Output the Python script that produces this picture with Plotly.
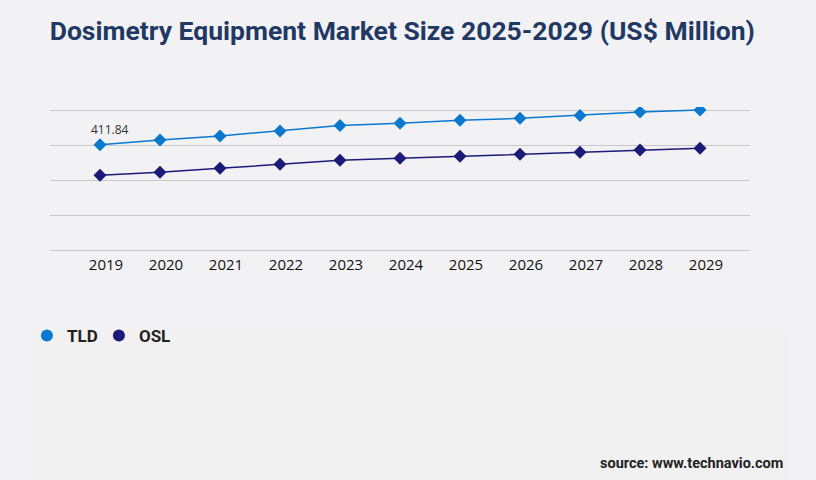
import plotly.graph_objects as go

years = ["2019", "2020", "2021", "2022", "2023", "2024", "2025", "2026", "2027", "2028", "2029"]
tld = [411.84, 430.6, 446.2, 465.8, 488.0, 496.0, 507.7, 515.5, 527.2, 540.1, 548.0]
osl = [292.4, 304.1, 319.8, 335.4, 351.1, 358.9, 366.7, 374.6, 382.4, 391.4, 398.1]

series = [("TLD", tld, "#0a78cf"), ("OSL", osl, "#1b1a78")]

fig = go.Figure()

for name, vals, col in series:
    fig.add_trace(go.Scatter(
        x=years, y=vals, name=name, mode="lines+markers",
        line=dict(color=col, width=1.5),
        marker=dict(symbol="diamond", size=10, color=col),
        showlegend=False, hoverinfo="skip"))

# legend uses round markers
for name, vals, col in series:
    fig.add_trace(go.Scatter(
        x=[None], y=[None], name=name, mode="markers",
        marker=dict(symbol="circle", size=12, color=col)))

# first value label (category axis -> index of the category)
fig.add_annotation(x=years.index(years[0]), y=tld[0], text=f"{tld[0]:.2f}", showarrow=False,
                   xshift=10, yshift=15, font=dict(family="Open Sans", size=12, color="#333333"))

fig.add_annotation(xref="paper", yref="paper", x=1.05, y=-1.49, xanchor="right", yanchor="middle",
                   text="<b>source: www.technavio.com</b>", showarrow=False,
                   font=dict(family="Roboto", size=14.5, color="#222222"))

fig.add_shape(type="rect", xref="paper", yref="paper", x0=-0.026, x1=1.057, y0=-0.55, y1=-1.7,
              fillcolor="#f1f1f2", line=dict(width=0), layer="below")

fig.update_layout(
    width=816, height=480, autosize=False,
    paper_bgcolor="#f2f2f4", plot_bgcolor="#f2f2f4",
    margin=dict(l=50, r=66, t=107, b=230),
    title=dict(text="<b>Dosimetry Equipment Market Size 2025-2029 (US$ Million)</b>",
               x=0.493, xanchor="center", y=0.937, yanchor="middle",
               font=dict(family="Roboto", size=26.5, color="#1f3864")),
    legend=dict(orientation="h", xref="container", yref="container", x=0.033, y=0.3,
                xanchor="left", yanchor="middle",
                font=dict(family="Roboto", size=17, color="#222222", weight="bold"),
                itemwidth=30, entrywidth=27, entrywidthmode="pixels", bgcolor="rgba(0,0,0,0)"),
    xaxis=dict(type="category", range=[-0.833, 10.833], showgrid=False, showline=False,
               zeroline=False, ticks="", ticklabelshift=6, ticklabelstandoff=4,
               tickfont=dict(family="Open Sans", size=15, color="#111111")),
    yaxis=dict(range=[0, 560], tick0=0, dtick=137, showticklabels=False, showgrid=True,
               gridcolor="#c8c8c8", gridwidth=1, zeroline=True, zerolinecolor="#c8c8c8",
               zerolinewidth=1, showline=False),
)

fig.write_html("out.html", config={"displayModeBar": False},
               post_script="document.body.style.margin='0';"
               "document.body.style.background='#f2f2f4';")
